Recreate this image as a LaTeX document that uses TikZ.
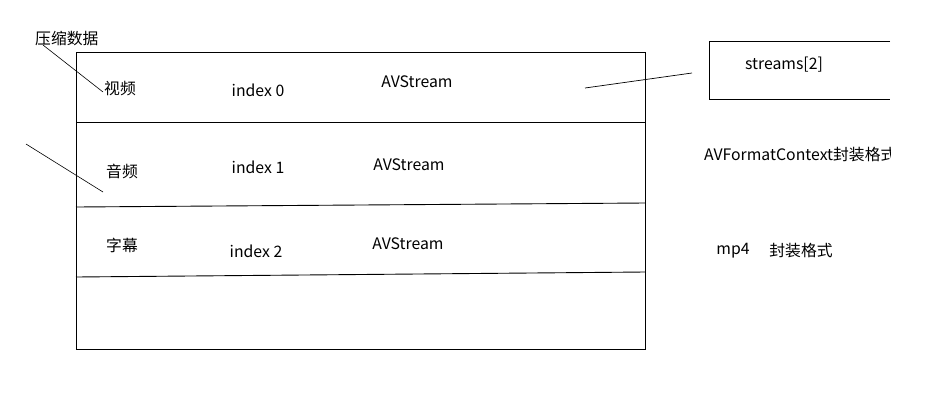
\documentclass[tikz,border=0pt]{standalone}
\usepackage{fontspec}
\setmainfont{Noto Sans CJK SC}
\begin{document}
\begin{tikzpicture}[x=1pt,y=-1pt,
  lbl/.style={inner sep=0pt,font=\fontsize{15.8}{18}\selectfont},
  ln/.style={draw=black,line width=0.9pt}]
\useasboundingbox (0,0) rectangle (940,400);
% main box
\draw[ln] (76,52) rectangle (645,349);
\draw[ln] (76,122) -- (645,122);
\draw[ln] (76,207) -- (645,203);
\draw[ln] (76,277) -- (645,272);
% streams box (cut at right)
\draw[ln] (890,41) -- (709,41) -- (709,99) -- (890,99);
\node[lbl] (streams) at (784,65) {streams[2]};
% texts
\node[lbl,anchor=west] (ysj) at (35,38) {压缩数据};
\node[lbl] (sp) at (120,89) {视频};
\node[lbl] (i0) at (258,90) {index 0};
\node[lbl] (av0) at (417,82) {AVStream};
\node[lbl] (yp) at (122,171) {音频};
\node[lbl] (i1) at (258,167) {index 1};
\node[lbl] (av1) at (409,165) {AVStream};
\node[lbl] (zm) at (122,245) {字幕};
\node[lbl] (i2) at (256,251) {index 2};
\node[lbl] (av2) at (408,244) {AVStream};
\begin{scope}
\clip (600,130) rectangle (890,180);
\node[lbl,anchor=west] (afc) at (704,155) {AVFormatContext封装格式};
\end{scope}
\node[lbl] (mp4) at (733,251) {mp4};
\node[lbl] (fz) at (801,251) {封装格式};
% connectors
\coordinate (c1) at (43,45);
\coordinate (c2) at (103,92);
\draw[line width=0.6pt] (c1) -- (c2);
\coordinate (c3) at (26,144);
\coordinate (c4) at (103,192);
\draw[line width=0.6pt] (c3) -- (c4);
\coordinate (c5) at (585,88);
\coordinate (c6) at (692,73);
\draw[line width=0.7pt] (c5) -- (c6);
\end{tikzpicture}
\end{document}
